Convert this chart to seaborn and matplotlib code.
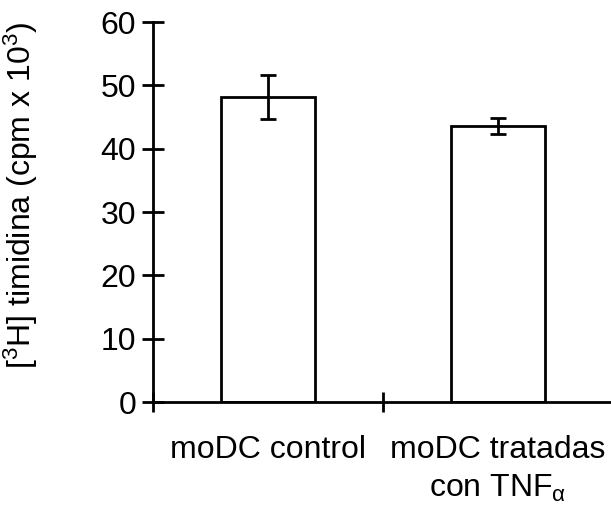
import matplotlib
matplotlib.use("Agg")
import matplotlib.pyplot as plt
import seaborn as sns
import pandas as pd
from matplotlib.ticker import FixedLocator

# Data: [3H]-thymidine incorporation (cpm x 10^3), mean and error
categories = ["moDC control", "moDC tratadas\ncon TNF$_\\mathrm{α}$"]
means = [48.2, 43.6]
errors = [3.5, 1.3]
yticks = [0, 10, 20, 30, 40, 50, 60]

sns.set_style("ticks")
plt.rcParams["font.family"] = ["Liberation Sans", "DejaVu Sans"]
plt.rcParams["mathtext.fontset"] = "custom"
plt.rcParams["mathtext.rm"] = "Liberation Sans"
plt.rcParams["mathtext.it"] = "Liberation Sans:italic"

df = pd.DataFrame({"grupo": categories, "valor": means})

W, H = 611, 508
fig = plt.figure(figsize=(W / 100, H / 100), dpi=100)
ax = fig.add_axes([153 / W, 106 / H, 460 / W, 380 / H])

lw = 2.0
sns.barplot(data=df, x="grupo", y="valor", color="white", edgecolor="black",
            linewidth=lw, width=0.41, errorbar=None, ax=ax, zorder=2)
ax.errorbar(range(len(means)), means, yerr=errors, fmt="none", ecolor="black",
            elinewidth=lw, capsize=6, capthick=lw, zorder=3)

ax.set_xlim(-0.5, 1.5)
ax.set_ylim(0, 60)
ax.set_yticks(yticks)
ax.set_yticklabels([str(t) for t in yticks])

sns.despine(ax=ax)
for s in ["left", "bottom"]:
    ax.spines[s].set_linewidth(lw)
    ax.spines[s].set_color("black")

fs = 23
ax.tick_params(axis="y", direction="inout", length=16, width=lw,
               labelsize=fs, pad=4, colors="black")
ax.xaxis.set_minor_locator(FixedLocator([-0.5, 0.5, 1.5]))
ax.tick_params(axis="x", which="minor", direction="inout", length=15, width=lw,
               color="black")
ax.tick_params(axis="x", which="major", length=0, labelsize=fs, pad=24,
               labelcolor="black")
for lab in ax.get_xticklabels():
    lab.set_linespacing(1.3)
    lab.set_verticalalignment("top")

ax.set_xlabel("")
ax.set_ylabel("[$^3$H] timidina (cpm x 10$^3$)", fontsize=fs, color="black")
ax.yaxis.set_label_coords(-0.245, 0.545)

fig.savefig("out.png", dpi=100)
